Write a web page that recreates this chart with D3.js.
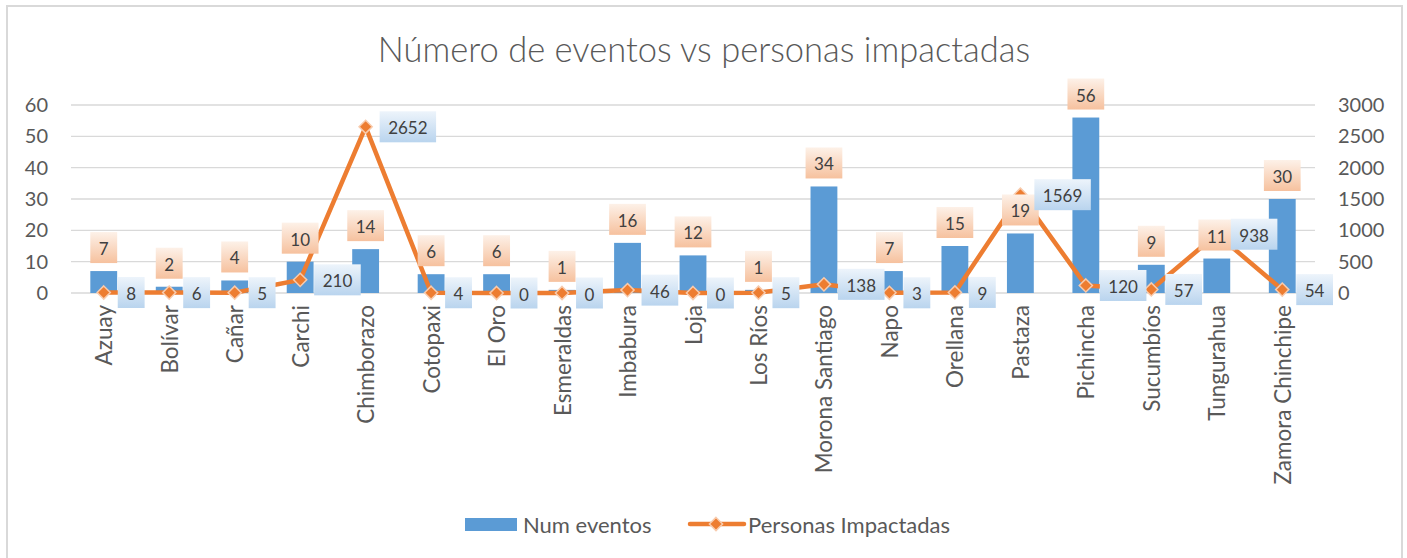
<!DOCTYPE html>
<html>
<head>
<meta charset="utf-8">
<script src="https://cdn.jsdelivr.net/npm/d3@7"></script>
<style>
  body { margin: 0; background: #fff; }
  text { font-family: Lato, "Liberation Sans", sans-serif; }
</style>
</head>
<body>
<div id="chart"></div>
<script>
// data
const provincias = ["Azuay", "Bolívar", "Cañar", "Carchi", "Chimborazo", "Cotopaxi", "El Oro",
  "Esmeraldas", "Imbabura", "Loja", "Los Ríos", "Morona Santiago", "Napo", "Orellana",
  "Pastaza", "Pichincha", "Sucumbíos", "Tungurahua", "Zamora Chinchipe"];
const numEventos = [7, 2, 4, 10, 14, 6, 6, 1, 16, 12, 1, 34, 7, 15, 19, 56, 9, 11, 30];
const personasImpactadas = [8, 6, 5, 210, 2652, 4, 0, 0, 46, 0, 5, 138, 3, 9, 1569, 120, 57, 938, 54];
const leftTicks = [0, 10, 20, 30, 40, 50, 60];
const rightTicks = [0, 500, 1000, 1500, 2000, 2500, 3000];

const width = 1407, height = 558;
const plot = {left: 71, right: 1315, top: 105, bottom: 293};

const svg = d3.select("#chart").append("svg")
    .attr("width", width)
    .attr("height", height);

// gradients for the label boxes
const defs = svg.append("defs");
const gradOrange = defs.append("linearGradient").attr("id", "gOrange")
    .attr("x1", 0).attr("y1", 0).attr("x2", 0).attr("y2", 1);
gradOrange.append("stop").attr("offset", "0%").attr("stop-color", "#fdf1e8");
gradOrange.append("stop").attr("offset", "100%").attr("stop-color", "#f6c19e");
const gradBlue = defs.append("linearGradient").attr("id", "gBlue")
    .attr("x1", 0).attr("y1", 0).attr("x2", 0).attr("y2", 1);
gradBlue.append("stop").attr("offset", "0%").attr("stop-color", "#edf4fb");
gradBlue.append("stop").attr("offset", "100%").attr("stop-color", "#b9d4ee");

// chart border
svg.append("rect")
    .attr("x", 7).attr("y", 6)
    .attr("width", 1395).attr("height", 560)
    .attr("fill", "none")
    .attr("stroke", "#d9d9d9")
    .attr("stroke-width", 2);

// title
svg.append("text")
    .attr("x", 704).attr("y", 62)
    .attr("text-anchor", "middle")
    .attr("fill", "#595959")
    .style("font-size", "34.5px")
    .style("font-weight", 300)
    .text("Número de eventos vs personas impactadas");

// scales
const xScale = d3.scaleBand().domain(provincias).range([plot.left, plot.right]).padding(0);
const yLeft = d3.scaleLinear().domain([0, 60]).range([plot.bottom, plot.top]);
const yRight = d3.scaleLinear().domain([0, 3000]).range([plot.bottom, plot.top]);
const cx = d => xScale(d) + xScale.bandwidth() / 2;
const barW = xScale.bandwidth() * 0.41;

// gridlines
svg.append("g").selectAll("line")
    .data(leftTicks)
    .join("line")
    .attr("x1", plot.left).attr("x2", plot.right)
    .attr("y1", d => yLeft(d)).attr("y2", d => yLeft(d))
    .attr("stroke", "#d9d9d9")
    .attr("stroke-width", 1.3);

// left axis
const axL = svg.append("g")
    .attr("transform", `translate(48,0)`)
    .call(d3.axisLeft(yLeft).tickValues(leftTicks).tickSize(0).tickPadding(0));
axL.select(".domain").remove();
axL.selectAll("text").attr("fill", "#595959").style("font-size", "20px");

// right axis
const axR = svg.append("g")
    .attr("transform", `translate(1338,0)`)
    .call(d3.axisRight(yRight).tickValues(rightTicks).tickFormat(d3.format("d")).tickSize(0).tickPadding(0));
axR.select(".domain").remove();
axR.selectAll("text").attr("fill", "#595959").style("font-size", "20px");

// bars
svg.append("g").selectAll("rect")
    .data(provincias)
    .join("rect")
    .attr("x", d => cx(d) - barW / 2)
    .attr("y", (d, i) => yLeft(numEventos[i]))
    .attr("width", barW)
    .attr("height", (d, i) => plot.bottom - yLeft(numEventos[i]))
    .attr("fill", "#5b9bd5");

// x labels
svg.append("g").selectAll("text")
    .data(provincias)
    .join("text")
    .attr("transform", d => `translate(${cx(d)},305) rotate(-90)`)
    .attr("text-anchor", "end")
    .attr("dominant-baseline", "central")
    .attr("fill", "#595959")
    .style("font-size", "22.5px")
    .text(d => d);

// line
const line = d3.line()
    .x((d, i) => cx(provincias[i]))
    .y(d => yRight(d));
svg.append("path")
    .datum(personasImpactadas)
    .attr("fill", "none")
    .attr("stroke", "#ed7d31")
    .attr("stroke-width", 4.5)
    .attr("stroke-linejoin", "round")
    .attr("d", line);

const diamond = d3.symbol().type(d3.symbolDiamond2).size(110);
svg.append("g").selectAll("path")
    .data(personasImpactadas)
    .join("path")
    .attr("transform", (d, i) => `translate(${cx(provincias[i])},${yRight(d)})`)
    .attr("d", diamond)
    .attr("fill", "#ed7d31")
    .attr("stroke", "#f8cbad")
    .attr("stroke-width", 1.5);

// label boxes
function labelBox(g, x, y, txt, fill, anchor) {
    const t = g.append("text")
        .attr("fill", "#404040")
        .style("font-size", "17px")
        .attr("dominant-baseline", "central")
        .text(txt);
    const w = t.node().getComputedTextLength() + 17;
    const h = 31;
    const left = anchor === "middle" ? x - w / 2 : x;
    g.insert("rect", "text")
        .attr("x", left).attr("y", y - h / 2)
        .attr("width", w).attr("height", h)
        .attr("fill", fill);
    t.attr("x", left + w / 2).attr("y", y + 1).attr("text-anchor", "middle");
}

const barLabels = svg.append("g");
numEventos.forEach((v, i) => {
    const g = barLabels.append("g");
    labelBox(g, cx(provincias[i]), yLeft(v) - 8 - 15.5, v, "url(#gOrange)", "middle");
});
const lineLabels = svg.append("g");
personasImpactadas.forEach((v, i) => {
    const g = lineLabels.append("g");
    labelBox(g, cx(provincias[i]) + 14, yRight(v), v, "url(#gBlue)", "start");
});

// legend
svg.append("rect")
    .attr("x", 465).attr("y", 518)
    .attr("width", 52).attr("height", 13)
    .attr("fill", "#5b9bd5");
svg.append("text")
    .attr("x", 523).attr("y", 524)
    .attr("dominant-baseline", "central")
    .attr("fill", "#595959")
    .style("font-size", "22px")
    .text("Num eventos");
svg.append("line")
    .attr("x1", 690).attr("x2", 744)
    .attr("y1", 524).attr("y2", 524)
    .attr("stroke", "#ed7d31")
    .attr("stroke-width", 4.5)
    .attr("stroke-linecap", "round");
svg.append("path")
    .attr("transform", "translate(716,524)")
    .attr("d", diamond)
    .attr("fill", "#ed7d31")
    .attr("stroke", "#f8cbad")
    .attr("stroke-width", 1.5);
svg.append("text")
    .attr("x", 748).attr("y", 524)
    .attr("dominant-baseline", "central")
    .attr("fill", "#595959")
    .style("font-size", "22px")
    .text("Personas Impactadas");
</script>
</body>
</html>
